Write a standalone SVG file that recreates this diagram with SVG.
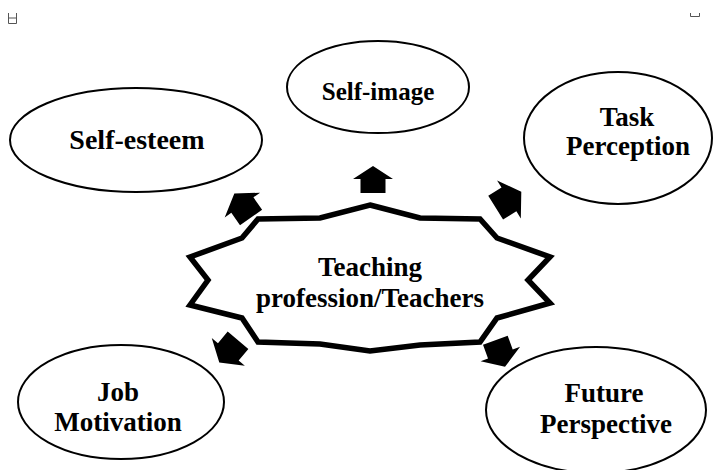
<svg xmlns="http://www.w3.org/2000/svg" width="725" height="470" viewBox="0 0 725 470">
  <style>
    .bubble { fill: #fff; stroke: #000; stroke-width: 2; }
    .label { font-family: "Liberation Serif", "Times New Roman", serif; font-weight: bold; font-size: 27px; fill: #000; text-anchor: middle; }
    .star { fill: #fff; stroke: #000; stroke-width: 5.5; stroke-linejoin: miter; }
    .mark { fill: none; stroke: #555; stroke-width: 1; }
  </style>
  <defs>
    <!-- block arrow pointing up, centred on the origin -->
    <path id="blockArrow" d="M0,-14 L20,-1 L12.5,-1 L12.5,13 L-12.5,13 L-12.5,-1 L-20,-1 Z" fill="#000"/>
  </defs>
  <rect width="725" height="470" fill="#fff"/>

  <!-- corner marks -->
  <path class="mark" d="M8.5,13 V23.5 H16.5 V13 M8.5,18 H16.5"/>
  <path class="mark" d="M690.5,13 V16.5 H699.5 V13"/>

  <g id="self-esteem">
    <ellipse class="bubble" cx="136" cy="140" rx="126" ry="52"/>
    <text class="label" x="137" y="149" style="font-size:28px">Self-esteem</text>
  </g>
  <g id="self-image">
    <ellipse class="bubble" cx="378" cy="87" rx="91" ry="46"/>
    <text class="label" x="378" y="100" style="font-size:25px">Self-image</text>
  </g>
  <g id="task-perception">
    <ellipse class="bubble" cx="618" cy="138" rx="94" ry="66"/>
    <text class="label" x="627" y="126">Task</text>
    <text class="label" x="628" y="155">Perception</text>
  </g>
  <g id="job-motivation">
    <ellipse class="bubble" cx="121" cy="402" rx="103" ry="57"/>
    <text class="label" x="118" y="401">Job</text>
    <text class="label" x="118" y="431">Motivation</text>
  </g>
  <g id="future-perspective">
    <ellipse class="bubble" cx="596" cy="410" rx="110" ry="63"/>
    <text class="label" x="604" y="402">Future</text>
    <text class="label" x="606" y="433">Perspective</text>
  </g>

  <g id="teaching-profession">
    <path class="star" d="M370,205 L420,218 L480,219 L497,238 L550,257 L528,280 L550,303 L497,318 L480,342 L420,345 L370,351 L320,344 L258,342 L242,318 L190,305 L208,280 L190,257 L242,238 L258,219 L320,218 Z"/>
    <text class="label" x="370" y="276">Teaching</text>
    <text class="label" x="370" y="307">profession/Teachers</text>
  </g>

  <g id="connectors">
    <use href="#blockArrow" transform="translate(373,180)"/>
    <use href="#blockArrow" transform="translate(243,206) rotate(-35) scale(1.08)"/>
    <use href="#blockArrow" transform="translate(508,200) rotate(58) scale(1.12)"/>
    <use href="#blockArrow" transform="translate(229,351) rotate(-140) scale(1.08)"/>
    <use href="#blockArrow" transform="translate(500,353) rotate(160) scale(1.05)"/>
  </g>
</svg>
